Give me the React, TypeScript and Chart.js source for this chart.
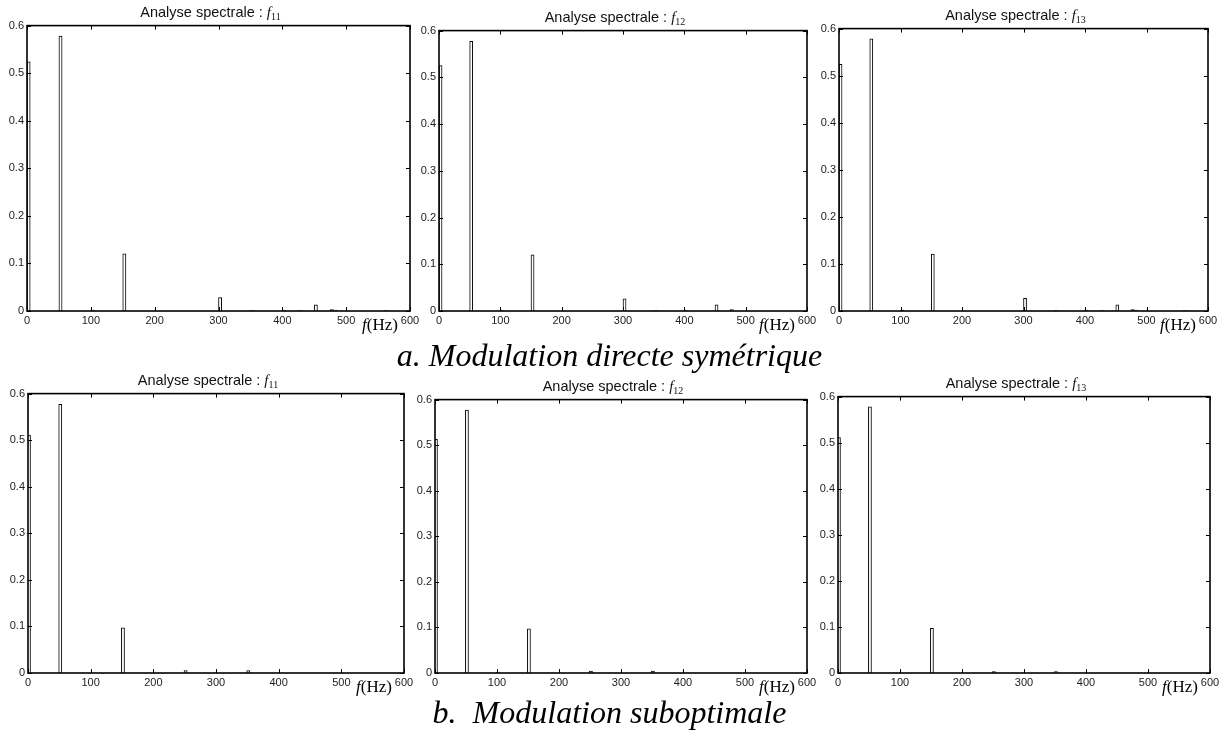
import React, { useEffect, useRef } from "react";
import { Chart, registerables } from "chart.js";

Chart.register(...registerables);

// ---- Data ----
const xTicks = [0, 100, 200, 300, 400, 500, 600];
const yTicks = [0, 0.1, 0.2, 0.3, 0.4, 0.5, 0.6];
const binHz = 5;

// a. Modulation directe symétrique
const freqA11 = [0, 50, 100, 150, 300, 350, 400, 425, 450, 475, 480, 560];
const ampA11 = [0.524, 0.578, 0.002, 0.12, 0.028, 0.001, 0.002, 0.001, 0.013, 0.003, 0.002, 0.001];
const freqA12 = [0, 50, 100, 150, 300, 350, 400, 450, 475];
const ampA12 = [0.525, 0.577, 0.001, 0.12, 0.026, 0.001, 0.001, 0.013, 0.003];
const freqA13 = [0, 50, 100, 150, 300, 350, 400, 425, 450, 475, 480, 560];
const ampA13 = [0.524, 0.578, 0.002, 0.121, 0.027, 0.001, 0.002, 0.001, 0.013, 0.003, 0.002, 0.001];

// b. Modulation suboptimale
const freqB11 = [0, 50, 150, 250, 350];
const ampB11 = [0.511, 0.577, 0.097, 0.005, 0.005];
const freqB12 = [0, 50, 100, 150, 250, 350];
const ampB12 = [0.513, 0.577, 0.001, 0.097, 0.004, 0.004];
const freqB13 = [0, 50, 150, 250, 350];
const ampB13 = [0.511, 0.578, 0.097, 0.003, 0.003];

const titleText = "Analyse spectrale : ";
const captionA = "a. Modulation directe symétrique";
const captionB = "b.\u00a0 Modulation suboptimale";

// ---- Layout ----
type Panel = {
  L: number; T: number; R: number; B: number;
  sub: string; freqs: number[]; amps: number[]; shift: number;
};

const panels: Panel[] = [
  { L: 27, T: 24, R: 410, B: 311, sub: "11", freqs: freqA11, amps: ampA11, shift: 2.5 },
  { L: 439, T: 29, R: 807, B: 311, sub: "12", freqs: freqA12, amps: ampA12, shift: 2.5 },
  { L: 839, T: 27, R: 1208, B: 311, sub: "13", freqs: freqA13, amps: ampA13, shift: 2.5 },
  { L: 28, T: 392, R: 404, B: 673, sub: "11", freqs: freqB11, amps: ampB11, shift: 1.5 },
  { L: 435, T: 398, R: 807, B: 673, sub: "12", freqs: freqB12, amps: ampB12, shift: 1.5 },
  { L: 838, T: 395, R: 1210, B: 673, sub: "13", freqs: freqB13, amps: ampB13, shift: 1.5 },
];

const PAD_L = 32, PAD_T = 8, PAD_R = 14, PAD_B = 24;

const axesBox = {
  id: "axesBox",
  afterDatasetsDraw(chart: any) {
    const { ctx, chartArea, scales } = chart;
    const { left, right, top, bottom } = chartArea;
    const x = scales.x, y = scales.y;
    ctx.save();
    ctx.strokeStyle = "#000";
    ctx.lineWidth = 1;
    ctx.beginPath();
    x.ticks.forEach((t: any) => {
      const px = Math.round(x.getPixelForValue(t.value)) + 0.5;
      ctx.moveTo(px, bottom); ctx.lineTo(px, bottom - 4);
      ctx.moveTo(px, top); ctx.lineTo(px, top + 4);
    });
    y.ticks.forEach((t: any) => {
      const py = Math.round(y.getPixelForValue(t.value)) + 0.5;
      ctx.moveTo(left, py); ctx.lineTo(left + 4, py);
      ctx.moveTo(right, py); ctx.lineTo(right - 4, py);
    });
    ctx.stroke();
    ctx.lineWidth = 1.6;
    ctx.strokeRect(left, top, right - left, bottom - top);
    ctx.restore();
  },
};

function SpectrumPanel({ p }: { p: Panel }) {
  const ref = useRef<HTMLCanvasElement>(null);
  const w = p.R - p.L + PAD_L + PAD_R;
  const h = p.B - p.T + PAD_T + PAD_B;
  useEffect(() => {
    if (!ref.current) return;
    const pw = p.R - p.L;
    const thickness = (binHz * pw) / 600;
    const chart = new Chart(ref.current, {
      type: "bar",
      data: {
        datasets: [
          {
            data: p.freqs.map((f, i) => ({ x: f + p.shift, y: p.amps[i] })),
            backgroundColor: "#ffffff",
            borderColor: "#000000",
            borderWidth: 1,
            barThickness: thickness,
          } as any,
        ],
      },
      options: {
        animation: false,
        responsive: false,
        devicePixelRatio: 1,
        layout: { padding: { left: 0, top: PAD_T, right: PAD_R, bottom: 0 } },
        plugins: { legend: { display: false }, tooltip: { enabled: false }, title: { display: false } },
        scales: {
          x: {
            type: "linear",
            min: 0,
            max: 600,
            offset: false,
            grid: { display: false, drawTicks: false },
            border: { display: false },
            afterBuildTicks: (s: any) => { s.ticks = xTicks.map((v) => ({ value: v })); },
            afterFit: (s: any) => { s.height = PAD_B; },
            ticks: {
              padding: 3,
              color: "#222",
              font: { family: "'Liberation Sans', Arial, sans-serif", size: 11 },
              maxRotation: 0,
              autoSkip: false,
            },
          },
          y: {
            type: "linear",
            min: 0,
            max: 0.6,
            grid: { display: false, drawTicks: false },
            border: { display: false },
            afterBuildTicks: (s: any) => { s.ticks = yTicks.map((v) => ({ value: v })); },
            afterFit: (s: any) => { s.width = PAD_L; },
            ticks: {
              padding: 3,
              color: "#222",
              font: { family: "'Liberation Sans', Arial, sans-serif", size: 11 },
              callback: (v: any) => String(Math.round(Number(v) * 10) / 10),
            },
          },
        },
      },
      plugins: [axesBox],
    });
    return () => chart.destroy();
  }, []);

  return (
    <>
      <canvas
        ref={ref}
        width={w}
        height={h}
        style={{ position: "absolute", left: p.L - PAD_L, top: p.T - PAD_T, width: w, height: h }}
      />
      <div
        style={{
          position: "absolute",
          left: p.L - 8,
          width: p.R - p.L,
          top: p.T - 21,
          height: 18,
          lineHeight: "18px",
          textAlign: "center",
          whiteSpace: "nowrap",
          color: "#111",
          fontFamily: "'Liberation Sans', Arial, sans-serif",
          fontSize: 14.5,
        }}
      >
        {titleText}
        <span style={{ fontFamily: "'Liberation Serif', serif", fontStyle: "italic", fontSize: 15 }}>f</span>
        <span style={{ fontFamily: "'Liberation Serif', serif", fontSize: 10, position: "relative", top: 3 }}>{p.sub}</span>
      </div>
      <div
        style={{
          position: "absolute",
          right: 1219 - (p.R - 12),
          top: p.B + 4,
          lineHeight: "20px",
          whiteSpace: "nowrap",
          color: "#000",
          fontFamily: "'Liberation Serif', serif",
          fontSize: 17,
        }}
      >
        <span style={{ fontStyle: "italic" }}>f</span>(Hz)
      </div>
    </>
  );
}

export default function App() {
  return (
    <div style={{ position: "absolute", left: 0, top: 0, width: 1219, height: 733, background: "#fff", overflow: "hidden" }}>
      {panels.map((p, i) => (
        <SpectrumPanel key={i} p={p} />
      ))}
      <div
        style={{
          position: "absolute", left: 0, width: 1219, top: 339, lineHeight: "32px", textAlign: "center",
          fontFamily: "'Liberation Serif', 'Times New Roman', serif", fontStyle: "italic", fontSize: 32, color: "#000", whiteSpace: "pre",
        }}
      >
        {captionA}
      </div>
      <div
        style={{
          position: "absolute", left: 0, width: 1219, top: 696, lineHeight: "32px", textAlign: "center",
          fontFamily: "'Liberation Serif', 'Times New Roman', serif", fontStyle: "italic", fontSize: 32, color: "#000", whiteSpace: "pre",
        }}
      >
        {captionB}
      </div>
    </div>
  );
}
